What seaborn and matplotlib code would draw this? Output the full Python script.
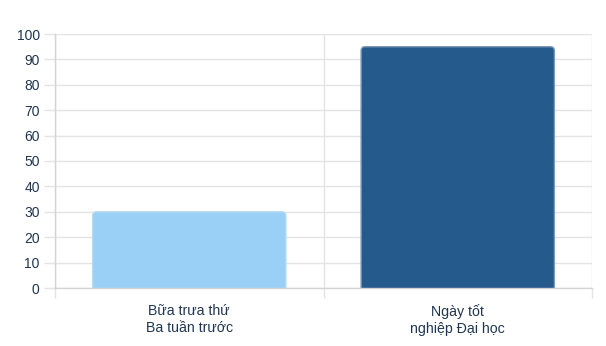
import matplotlib
matplotlib.use("Agg")
import matplotlib.pyplot as plt
import seaborn as sns
import pandas as pd
from matplotlib.patches import FancyBboxPatch

categories = ["Bữa trưa thứ\nBa tuần trước", "Ngày tốt\nnghiệp Đại học"]
values = [30, 95]
fill_colors = ["#9ad0f5", "#255a8c"]
edge_colors = ["#b5dbf5", "#7d9bb8"]
y_ticks = [0, 10, 20, 30, 40, 50, 60, 70, 80, 90, 100]

sns.set_theme(style="white")
plt.rcParams["font.family"] = ["Liberation Sans", "DejaVu Sans"]

text_color = "#1f3550"
grid_color = "#e4e4e4"

df = pd.DataFrame({"cat": categories, "val": values})

fig = plt.figure(figsize=(6.06, 3.46), dpi=100)
W, H = 606, 346
ax = fig.add_axes([55 / W, (H - 288) / H, (592 - 55) / W, (288 - 34) / H])

sns.barplot(data=df, x="cat", y="val", hue="cat", palette=fill_colors,
            width=0.72, ax=ax, legend=False, saturation=1, zorder=3)

ax.set_xlim(-0.5, 1.5)
ax.set_ylim(0, 100)

# rounded top corners
r_px = 4.0
px_per_x = (592 - 55) / 2.0
px_per_y = (288 - 34) / 100.0
rx = r_px / px_per_x
aspect = px_per_x / px_per_y
for i, p in enumerate(list(ax.patches)):
    x0, w, h = p.get_x(), p.get_width(), p.get_height()
    p.set_visible(False)
    fb = FancyBboxPatch((x0, -10), w, h + 10,
                        boxstyle=f"round,pad=0,rounding_size={rx}",
                        mutation_aspect=aspect,
                        facecolor=fill_colors[i], edgecolor=edge_colors[i],
                        linewidth=1.0, zorder=3)
    ax.add_patch(fb)

ax.set_yticks(y_ticks)
ax.set_yticklabels([str(t) for t in y_ticks])
ax.set_xticks([0, 1])
ax.set_xticks([-0.5, 0.5, 1.5], minor=True)
ax.set_xlabel("")
ax.set_ylabel("")

ax.grid(True, axis="y", color=grid_color, linewidth=1, zorder=0)
ax.grid(True, axis="x", which="minor", color=grid_color, linewidth=1, zorder=0)
ax.grid(False, axis="x", which="major")

ax.tick_params(axis="y", which="major", length=8, width=1, color=grid_color,
               pad=3, labelsize=10, labelcolor=text_color, left=True)
ax.tick_params(axis="x", which="major", length=0, pad=11.5, labelsize=10.2,
               labelcolor=text_color)
ax.tick_params(axis="x", which="minor", length=7, width=1, color=grid_color,
               bottom=True)

for s in ["top", "right"]:
    ax.spines[s].set_visible(False)
for s in ["left", "bottom"]:
    ax.spines[s].set_color("#d4d4d4")
    ax.spines[s].set_linewidth(1)
    ax.spines[s].set_zorder(4)

for lbl in ax.get_xticklabels():
    lbl.set_linespacing(1.3)

fig.savefig("out.png", dpi=100)
